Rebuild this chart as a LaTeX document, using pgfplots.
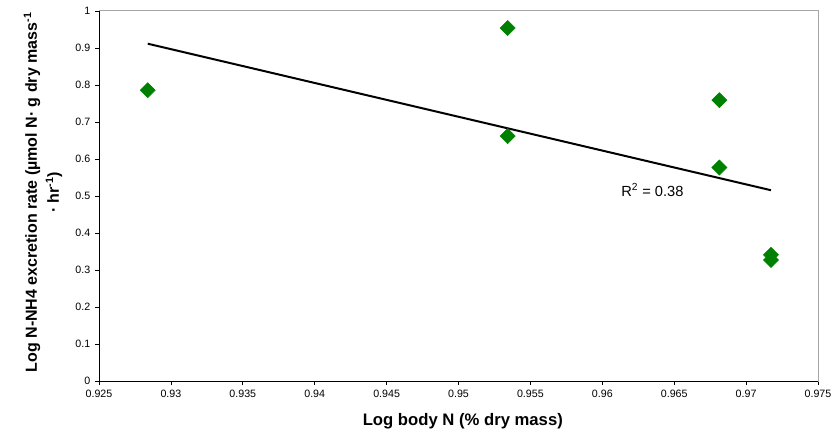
\documentclass[border=0pt]{standalone}
\usepackage{pgfplots}
\pgfplotsset{compat=1.18}
\usepackage{pgfplotstable}
\usepackage{fontspec}
\setmainfont{Liberation Sans}

\definecolor{markgreen}{RGB}{0,128,0}
\definecolor{framegray}{RGB}{166,166,166}

% log body N vs log N-NH4 excretion rate
\pgfplotstableread{
x       y
0.92839 0.786
0.95342 0.954
0.95342 0.662
0.96814 0.759
0.96814 0.577
0.97173 0.341
0.97173 0.327
}\excretion

\begin{document}
\begin{tikzpicture}
\begin{axis}[
  scale only axis,
  width=539.25pt, height=277.5pt,
  xmin=0.925, xmax=0.975, ymin=0, ymax=1,
  xtick={0.925,0.93,0.935,0.94,0.945,0.95,0.955,0.96,0.965,0.97,0.975},
  ytick={0,0.1,0.2,0.3,0.4,0.5,0.6,0.7,0.8,0.9,1},
  /pgf/number format/.cd, fixed, precision=3, assume math mode=true,
  /pgfplots/.cd,
  tick align=outside,
  xtick pos=left, ytick pos=left,
  major tick length=3pt,
  tick style={black, line width=0.6pt},
  axis line style={framegray, line width=0.75pt},
  ticklabel style={font=\fontsize{8}{9}\selectfont},
  xlabel={Log body N (\% dry mass)},
  xlabel style={font=\bfseries\fontsize{12.5}{15}\selectfont,
    at={(axis description cs:0.506,-0.11)}, anchor=center},
  ylabel={Log N-NH4 excretion rate (µmol N· g dry mass\textsuperscript{-1}\\ · hr\textsuperscript{-1})},
  ylabel style={font=\bfseries\fontsize{12}{16.5}\selectfont, align=center,
    at={(axis description cs:-0.078,0.51)}, anchor=center},
]
\coordinate (bl) at (rel axis cs:0,0);
\coordinate (tr) at (rel axis cs:1,1);
\draw[black, line width=0.75pt] (rel axis cs:0,1) -- (rel axis cs:0,0) -- (rel axis cs:1,0);
\addplot[only marks, mark=square*, mark size=4pt,
  mark options={rotate=45, fill=markgreen, draw=markgreen}] table {\excretion};
% least-squares trend line over the data range
\addplot[black, line width=1.5pt] coordinates {(0.92839,0.9116) (0.97173,0.5156)};
\node[anchor=west, inner sep=0pt, font=\fontsize{11}{13}\selectfont] at (axis cs:0.9613,0.516)
  {R\textsuperscript{2} = 0.38};
\end{axis}
\pgfresetboundingbox
\useasboundingbox ([shift={(-74.25pt,-41.25pt)}]bl) rectangle ([shift={(10.5pt,8.25pt)}]tr);
\end{tikzpicture}
\end{document}
